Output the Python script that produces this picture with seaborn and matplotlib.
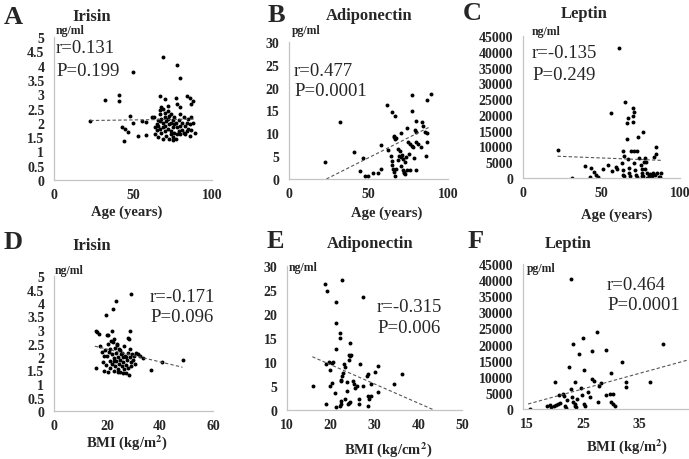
import matplotlib
matplotlib.use('Agg')
import matplotlib.pyplot as plt
import seaborn as sns

# ---- values ----
# A: irisin (ng/ml) vs age
a_points = [(23, 2.07), (32, 2.80), (41, 2.97), (41, 2.75), (50, 3.77), (43, 1.85), (45, 1.79),
            (47, 1.67), (44, 1.38), (48, 2.25), (50, 1.99), (53, 1.53), (56, 2.06), (58, 2.02),
            (58, 1.57), (62, 2.21), (69, 4.31), (78, 4.03), (80, 3.56),
            (63, 2.2), (64, 1.85), (64, 1.6), (65, 1.95), (65, 1.75), (66, 2.1), (66, 1.9), (66, 1.5),
            (67, 2.45), (67, 2.3), (67, 2.05), (67, 1.8), (68, 2.55), (68, 2.15), (68, 1.65),
            (69, 2.0), (69, 1.85), (69, 1.45), (70, 2.35), (70, 2.2), (70, 1.9), (70, 1.7),
            (71, 2.05), (71, 1.55), (72, 2.4), (72, 2.15), (72, 1.8), (73, 2.25), (73, 1.95),
            (73, 1.45), (74, 2.3), (74, 2.0), (74, 1.7), (74, 1.6), (75, 2.1), (75, 1.85), (75, 1.5),
            (76, 2.2), (76, 1.95), (76, 1.65), (77, 2.0), (77, 1.45), (78, 2.65), (78, 1.85),
            (78, 1.6), (79, 2.1), (79, 1.7), (80, 2.55), (80, 2.3), (80, 1.9), (80, 1.6), (81, 2.0),
            (81, 1.75), (82, 2.2), (82, 1.65), (83, 1.9), (83, 1.6), (84, 2.95), (84, 2.0), (84, 1.7),
            (85, 2.15), (85, 1.8), (86, 2.85), (86, 1.95), (87, 2.65), (87, 2.2), (87, 1.75),
            (88, 2.0), (89, 1.65), (67, 2.95), (70, 2.83), (77, 2.87), (88, 2.75), (69, 2.5),
            (72, 2.6), (75, 1.4), (86, 1.55)]
a_fit_x = [23, 89]
a_fit_y = [2.08, 2.13]

# B: adiponectin (pg/ml) vs age
b_points = [(22.6, 3.8), (32, 12.5), (40.9, 6.0), (46.8, 4.7), (44.7, 1.8), (47.8, 0.6), (49.9, 0.7),
            (53, 1.25), (55.8, 1.25), (57.9, 2.2), (57.9, 7.4), (61.8, 16.2), (65, 14.7), (66.7, 13.9),
            (64, 5.1), (64.5, 4.0), (65, 3.1), (65.5, 2.2), (62.5, 6.4), (65.8, 9.5), (66.2, 9.2),
            (66.8, 8.7), (67.2, 9.0), (66, 1.5), (66.5, 0.7), (67, 2.2), (68.7, 6.6), (69.8, 6.2),
            (70.4, 10), (68.3, 4.2), (69.2, 5.0), (70.4, 4.9), (71.2, 5.3), (71.8, 4.4), (72.8, 3.8),
            (73.4, 4.8), (70.2, 2.9), (71.5, 1.9), (72.3, 1.3), (73, 1.0), (72.5, 1.6),
            (77.6, 18.4), (77.6, 15.0), (79.9, 12.8), (83.8, 12.4), (74, 11.2), (79.2, 10.8),
            (79.7, 10.2), (74.7, 8.2), (76.1, 7.7), (77.2, 7.3), (78.2, 6.9), (80, 8.0), (81.2, 7.7),
            (82.8, 6.9), (78.8, 4.7), (79.9, 2.0), (85.5, 10.4), (86.6, 10.1), (84.5, 11.5),
            (86.6, 8.0), (86.2, 5.1), (86.8, 17.4), (89.1, 18.6), (75.5, 5.5), (76, 1.9), (74.5, 2.0)]
b_fit_x = [23.5, 88.5]
b_fit_y = [0, 11.4]

# C: leptin vs age
c_points = [(22.1, 9000), (31, 0), (39.6, 3700), (42.5, 200), (43.2, 3200), (45.3, 1900), (46.8, 1050),
            (47.9, 300), (51.1, 2850), (54.3, 4100), (56, 20500), (56.5, 2300), (59.5, 3500),
            (60, 2800), (61.1, 41100), (63, 4800), (63.5, 2500), (64, 1000), (64.2, 700), (64, 8700),
            (64.3, 7100), (65, 24200), (66, 12400), (66.7, 18900), (66, 17300), (67, 6000),
            (67.5, 3200), (68, 500), (67.8, 1500), (70, 22100), (70.5, 21000), (70.2, 19800),
            (70, 17600), (69, 8400), (71, 8500), (72.4, 8600), (70.5, 4800), (71.5, 2500), (72, 1000),
            (72.5, 300), (73.4, 13100), (76.6, 14700), (74, 6200), (75, 4200), (75.5, 3000),
            (76, 1500), (76.5, 600), (77, 5000), (78, 2800), (79, 1500), (80, 300), (80.5, 900),
            (78, 6300), (78.5, 5000), (81, 1200), (82, 700), (83, 1500), (84, 1100), (84.5, 9700),
            (83.4, 6500), (84.5, 7700), (85.5, 1600), (86.5, 400), (87.5, 300), (88, 1700),
            (76, 600), (79, 0)]
c_fit_x = [22, 88]
c_fit_y = [6900, 5600]

# D: irisin (ng/ml) vs BMI
d_points = [(28.9, 4.32), (23.4, 4.07), (22.1, 3.77), (19.8, 3.56), (15.8, 2.96), (16.2, 2.92),
            (17.1, 2.85), (20, 2.83), (20.5, 2.8), (21.8, 2.96), (28.5, 2.96), (27.9, 2.71),
            (28.2, 2.65), (15.8, 1.6), (48.5, 1.88), (40.9, 1.83), (36.5, 1.51), (33.6, 1.98),
            (31.6, 2.1), (32.3, 2.02), (28.5, 2.28),
            (17.5, 2.4), (18, 2.2), (18.5, 1.8), (19, 1.5), (19.2, 2.25), (19.8, 1.7), (20, 2.05),
            (20.3, 1.45), (20.8, 2.2), (21, 1.85), (21.2, 1.6), (21.5, 2.6), (21.8, 2.1), (22, 1.75),
            (22.2, 2.55), (22.5, 1.95), (22.6, 1.5), (23, 2.35), (23, 1.65), (23.3, 2.15),
            (23.5, 1.85), (23.8, 2.45), (24, 2.0), (24.2, 1.55), (24.5, 1.75), (24.8, 2.25),
            (25, 1.9), (25, 1.45), (25.3, 2.1), (25.6, 1.65), (26, 2.0), (26, 1.8), (26.3, 2.4),
            (26.5, 1.55), (26.8, 2.05), (27, 1.7), (27.2, 1.4), (27.5, 1.9), (27.8, 2.15), (28, 1.6),
            (28.3, 1.35), (28.6, 2.0), (29, 1.8), (29.2, 1.65), (29.5, 2.1), (29.8, 1.9),
            (30.2, 2.05), (30.5, 1.75), (31, 2.15), (22.8, 2.65), (23.8, 2.5), (24.5, 2.3),
            (25.5, 2.15), (20.5, 2.5), (21.3, 2.3), (19, 2.05), (24, 1.45), (26, 1.4), (22.5, 1.85),
            (27, 2.0)]
d_fit_x = [15.4, 48.5]
d_fit_y = [2.4, 1.62]

# E: adiponectin vs BMI
e_points = [(18.6, 26.2), (19.2, 24.8), (22.6, 27.1), (27.4, 23.6), (21.1, 22.4), (21.3, 18.2),
            (22.1, 16.1), (22.1, 15.1), (21.3, 12.7), (24.3, 13.9), (24.2, 11.4), (24.5, 11.2),
            (24.7, 11.4), (24.2, 10.5), (16, 5.1), (18.9, 1.2), (19, 9.6), (19.6, 9.9), (20.2, 9.8),
            (20.6, 9.9), (19.8, 8.4), (19.8, 5.1), (20.2, 5.6), (20.9, 3.5), (21.1, 0.55), (22.1, 0.9),
            (22.3, 1.9), (22.4, 1.25), (22.4, 6.3), (22.6, 7.1), (22.8, 7.7), (23, 9.6), (23.2, 8.9),
            (23.6, 5.75), (23.7, 4.0), (24, 1.25), (24.2, 1.45), (24.4, 1.6), (25, 6.1), (25.3, 5.4),
            (25.6, 4.5), (25.9, 5.1), (26.5, 2.3), (26.5, 1.25), (26.6, 9.6), (27.4, 4.9),
            (28.3, 7.1), (28.5, 7.5), (28.5, 3.0), (28.8, 2.3), (28.5, 0.8), (29.1, 3.0), (29.3, 5.4),
            (30.1, 8.0), (30.8, 9.1), (30.8, 3.7), (34.4, 5.4), (36.3, 7.5), (22.4, 6.1), (23.2, 2.2)]
e_fit_x = [15.8, 43.6]
e_fit_y = [11.1, 0]

# F: leptin (pg/ml) vs BMI
f_points = [(15.6, 0), (20, 8500), (18.6, 1000), (19.1, 1300), (19.4, 600), (19.9, 800), (20.3, 1200),
            (20.6, 1500), (20.8, 4400), (21.5, 4600), (21.6, 4100), (21.8, 1000), (22, 200),
            (22.6, 12900), (22.8, 40500), (23.2, 20200), (22.9, 6200), (23.1, 3600), (23.5, 8300),
            (23.3, 2300), (23.5, 1500), (23.6, 900), (23.8, 500), (24.3, 17100), (25, 21900),
            (25.1, 12200), (24.7, 6400), (24.9, 4400), (25.2, 1550), (25.4, 1000), (25.9, 5200),
            (26.2, 3800), (26.6, 17900), (26.6, 9300), (27, 8800), (27.5, 23800), (27.6, 2100),
            (27.8, 7200), (28.2, 8100), (29, 18400), (29, 4300), (29.7, 4800), (30.2, 4800),
            (30, 11200), (30, 2100), (30.3, 1550), (30.6, 1000), (31.8, 14500), (32.6, 8300),
            (32.6, 6700), (36.9, 8300), (39.1, 20200), (22.2, 2800), (24, 3000), (21, 2000)]
f_fit_x = [15.3, 43.5]
f_fit_y = [1550, 15200]

half_ticks = [0, 0.5, 1, 1.5, 2, 2.5, 3, 3.5, 4, 4.5, 5]
half_labels = ['0', '0.5', '1', '1.5', '2', '2.5', '3', '3.5', '4', '4.5', '5']
adipo_ticks = [0, 5, 10, 15, 20, 25, 30]
leptin_ticks = [0, 5000, 10000, 15000, 20000, 25000, 30000, 35000, 40000, 45000]

sns.set_style('white')
plt.rcParams['font.family'] = ['Liberation Serif', 'DejaVu Serif']
plt.rcParams['mathtext.fontset'] = 'stix'

W, H = 689, 460
fig = plt.figure(figsize=(W / 100, H / 100), dpi=100)


def px_axes(x0, y0, x1, y1):
    return fig.add_axes([x0 / W, 1 - y1 / H, (x1 - x0) / W, (y1 - y0) / H])


def ftext(x, y, s, **kw):
    kw.setdefault('va', 'center')
    fig.text(x / W, 1 - y / H, s, **kw)


def panel(box, points, fit_x, fit_y, xlim, xticks, ylim, yticks, ylabels=None):
    ax = px_axes(*box)
    xs, ys = zip(*points)
    sns.scatterplot(x=list(xs), y=list(ys), ax=ax, color='black', s=8, linewidth=0)
    ax.plot(fit_x, fit_y, color='#555555', lw=0.8, ls=(0, (3, 2)))
    ax.set_xlim(*xlim)
    ax.set_ylim(*ylim)
    ax.set_xticks(xticks)
    ax.set_yticks(yticks)
    ax.set_xticklabels([str(t) for t in xticks])
    ax.set_yticklabels(ylabels if ylabels else [str(t) for t in yticks])
    for lab in ax.get_xticklabels() + ax.get_yticklabels():
        lab.set_fontweight('bold')
        lab.set_fontsize(10)
    ax.tick_params(axis='x', length=0, pad=6)
    ax.tick_params(axis='y', length=0, pad=7)
    for side in ['top', 'right']:
        ax.spines[side].set_visible(False)
    for side in ['left', 'bottom']:
        ax.spines[side].set_color('#c4c4c4')
        ax.spines[side].set_linewidth(0.9)
    ax.set_facecolor('white')
    return ax


panel((54, 38, 212, 181), a_points, a_fit_x, a_fit_y, (0, 100), [0, 50, 100], (0, 5), half_ticks, half_labels)
panel((289, 43, 448, 180), b_points, b_fit_x, b_fit_y, (0, 100), [0, 50, 100], (0, 30), adipo_ticks)
panel((523, 37, 680, 179), c_points, c_fit_x, c_fit_y, (0, 100), [0, 50, 100], (0, 45000), leptin_ticks)
panel((54, 277, 213, 412), d_points, d_fit_x, d_fit_y, (0, 60), [0, 20, 40, 60], (0, 5), half_ticks, half_labels)
panel((287, 267, 462, 411), e_points, e_fit_x, e_fit_y, (10, 50), [10, 20, 30, 40, 50], (0, 30), adipo_ticks)
panel((523, 265, 689, 410), f_points, f_fit_x, f_fit_y, (14.4, 43.7), [15, 25, 35], (0, 45000), leptin_ticks)

# panel letters and titles
bold = dict(fontweight='bold')
for x, y, s in [(13, 17, 'A'), (276, 15, 'B'), (472, 13, 'C'),
                (13, 243, 'D'), (275, 242, 'E'), (476, 242, 'F')]:
    ftext(x, y, s, ha='center', fontsize=19, **bold)
for x, y, s in [(92, 17, 'Irisin'), (369, 16, 'Adiponectin'), (584, 14, 'Leptin'),
                (92, 246, 'Irisin'), (370, 244, 'Adiponectin'), (568, 244, 'Leptin')]:
    ftext(x, y, s, ha='center', fontsize=12, **bold)

# units
for x, y, s in [(56, 31, 'ng/ml'), (292, 31, 'pg/ml'), (532, 32, 'ng/ml'),
                (55, 271, 'ng/ml'), (289, 268, 'ng/ml'), (527, 269, 'pg/ml')]:
    ftext(x, y, s, ha='left', fontsize=8.5, **bold)

# correlation text
for x, y, s in [(56, 49, 'r=0.131'), (56, 72, 'P=0.199'),
                (294, 71, 'r=0.477'), (294, 92, 'P=0.0001'),
                (532, 54, 'r=-0.135'), (532, 75, 'P=0.249'),
                (150, 297, 'r=-0.171'), (150, 317, 'P=0.096'),
                (377, 307, 'r=-0.315'), (377, 329, 'P=0.006'),
                (607, 286, 'r=0.464'), (607, 306, 'P=0.0001')]:
    ftext(x, y, s, ha='left', fontsize=13.5)

# axis titles
for x, y, s in [(127, 212, 'Age (years)'), (387, 213, 'Age (years)'), (617, 215, 'Age (years)'),
                (127, 443, r'BMI (kg/m$\mathbf{^2}$)'), (388, 450, r'BMI (kg/cm$\mathbf{^2}$)'),
                (627, 447, r'BMI (kg/m$\mathbf{^2}$)')]:
    ftext(x, y, s, ha='center', fontsize=10.5, **bold)

fig.savefig('out.png', dpi=100, facecolor='white')
